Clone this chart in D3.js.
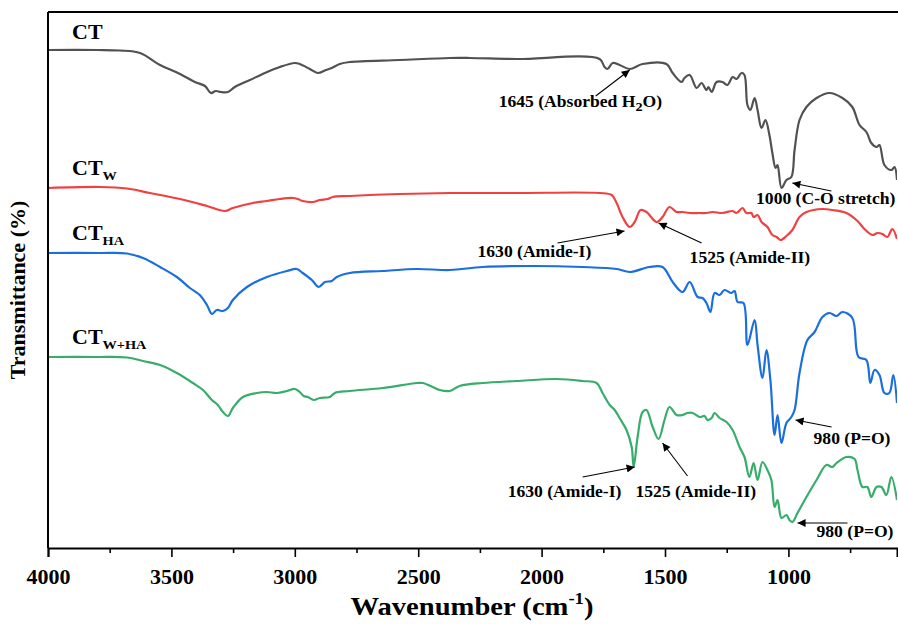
<!DOCTYPE html>
<html>
<head>
<meta charset="utf-8">
<script src="https://cdn.jsdelivr.net/npm/d3@7.9.0/dist/d3.min.js"></script>
<style>
  body { margin: 0; background: #fff; }
  svg text { font-family: "Liberation Serif", "Times New Roman", serif; font-weight: bold; fill: #000; }
</style>
</head>
<body>
<div id="chart"></div>
<script>
// FTIR spectra, wavenumber (cm-1) vs transmittance (stacked, arbitrary units)
const seriesNames = ['CT', 'CTW', 'CTHA', 'CTW+HA'];
const seriesColors = ['#515151', '#F14040', '#1A6FDF', '#37AD6B'];

const ct = [
  [4000, 498], [3800, 498], [3708, 497.5], [3627, 495], [3546, 483], [3465, 474], [3405, 466], [3364, 462],
  [3340, 455], [3320, 457], [3300, 456], [3271, 456], [3243, 461], [3182, 468], [3121, 475],
  [3061, 481], [3000, 485], [2980, 484], [2939, 479], [2907, 475], [2874, 478], [2850, 480],
  [2818, 484], [2777, 486], [2575, 488], [2372, 490], [2291, 490], [2101, 489], [1765, 489],
  [1745, 481], [1733, 479], [1712, 485], [1684, 483], [1643, 479], [1591, 484], [1494, 484],
  [1469, 475], [1433, 466], [1421, 470], [1400, 473], [1372, 460], [1352, 465], [1332, 458],
  [1324, 461], [1311, 456], [1291, 466], [1267, 466], [1247, 463], [1226, 471], [1210, 469],
  [1190, 475], [1178, 473], [1166, 443], [1154, 438], [1137, 450], [1125, 438], [1109, 420],
  [1093, 428], [1077, 413], [1065, 395], [1052, 380], [1044, 383], [1028, 360], [1008, 368],
  [988, 371], [975, 398], [955, 428], [927, 441], [886, 450], [834, 455], [781, 450],
  [741, 441], [712, 423], [684, 416], [664, 405], [643, 401], [631, 403], [611, 383],
  [583, 378], [570, 381], [560, 368]
];

const ctW = [
  [4000, 360], [3789, 361], [3680, 359.5], [3587, 355], [3465, 349], [3356, 342], [3283, 337],
  [3251, 340], [3170, 345], [3113, 347], [3061, 349], [3008, 350], [2988, 349], [2968, 347],
  [2927, 346], [2899, 348], [2866, 349], [2846, 351], [2777, 352], [2575, 354], [2372, 355],
  [2101, 355], [1765, 355], [1716, 353], [1696, 345], [1672, 331], [1643, 321], [1623, 326],
  [1599, 338], [1575, 336], [1534, 326], [1510, 331], [1482, 341], [1453, 336], [1429, 336],
  [1400, 335], [1360, 335], [1332, 335], [1307, 336], [1267, 335], [1226, 337], [1210, 335],
  [1186, 340], [1170, 335], [1150, 335], [1141, 331], [1125, 333], [1109, 326], [1085, 321],
  [1065, 313], [1048, 311], [1032, 308], [1008, 312], [984, 318], [955, 331], [927, 336],
  [862, 339], [822, 338], [765, 335], [720, 327], [692, 319], [660, 313], [639, 315],
  [619, 314], [599, 311], [579, 319], [560, 309]
];

const ctHA = [
  [4000, 295], [3789, 295], [3680, 294.5], [3615, 290], [3546, 281], [3478, 271], [3425, 260],
  [3385, 253], [3356, 243], [3336, 234], [3316, 238], [3291, 237], [3271, 240], [3251, 248],
  [3194, 261], [3113, 271], [3032, 277], [2992, 279], [2968, 275], [2931, 268], [2903, 261],
  [2878, 266], [2850, 267], [2830, 271], [2777, 275], [2644, 277], [2506, 279], [2372, 278],
  [2239, 281], [2036, 282], [1834, 281], [1696, 279], [1643, 276], [1563, 281], [1510, 281],
  [1469, 266], [1429, 256], [1400, 266], [1368, 251], [1348, 250], [1332, 245], [1316, 236],
  [1299, 255], [1279, 253], [1259, 258], [1231, 255], [1218, 257], [1206, 246], [1182, 245],
  [1166, 203], [1137, 228], [1125, 203], [1105, 170], [1089, 198], [1073, 168], [1056, 113],
  [1044, 133], [1028, 105], [1008, 125], [988, 131], [975, 138], [955, 175], [923, 208],
  [894, 216], [862, 231], [834, 235], [805, 232], [781, 236], [741, 230], [716, 191],
  [684, 188], [668, 165], [651, 178], [631, 173], [611, 155], [591, 155], [575, 173], [560, 145]
];

const ctWHA = [
  [4000, 191], [3800, 191], [3680, 190.5], [3615, 187], [3546, 183], [3478, 175], [3413, 165], [3372, 158],
  [3336, 148], [3312, 143], [3291, 136], [3271, 132], [3251, 140], [3210, 151], [3154, 155],
  [3113, 156], [3073, 155], [3032, 157], [3000, 159], [2980, 156], [2964, 152], [2947, 151],
  [2923, 148], [2899, 150], [2858, 151], [2838, 155], [2777, 157], [2644, 160], [2506, 165],
  [2482, 165], [2441, 161], [2413, 158], [2372, 157], [2332, 162], [2239, 165], [2101, 167],
  [1939, 169], [1834, 167], [1777, 165], [1753, 155], [1724, 143], [1704, 138], [1684, 130],
  [1656, 118], [1635, 101], [1627, 81], [1611, 111], [1591, 136], [1575, 138], [1550, 121],
  [1526, 109], [1502, 128], [1482, 141], [1453, 133], [1429, 133], [1409, 135], [1388, 135],
  [1360, 131], [1340, 132], [1328, 128], [1311, 130], [1299, 135], [1279, 130], [1251, 126],
  [1226, 118], [1198, 101], [1178, 91], [1158, 71], [1141, 85], [1125, 68], [1105, 86],
  [1085, 78], [1069, 68], [1056, 41], [1044, 48], [1028, 30], [1008, 33], [996, 28],
  [984, 26], [963, 35], [927, 51], [886, 68], [846, 83], [822, 81], [805, 85], [765, 91],
  [732, 89], [720, 78], [700, 61], [680, 61], [664, 51], [643, 61], [623, 61], [603, 53],
  [583, 71], [560, 48]
];

const seriesData = [ct, ctW, ctHA, ctWHA];

const majorTicks = [4000, 3500, 3000, 2500, 2000, 1500, 1000];
const minorTicks = [3750, 3250, 2750, 2250, 1750, 1250, 750];

// peak annotations: arrow head sits on the spectrum (wn, value)
const annotations = [
  { text: '1645 (Absorbed H', sub: '2', tail: 'O)', wn: 1643, val: 478, arrow: [-34, 26], label: [-131, 37] },
  { text: '1000 (C-O stretch)', wn: 984, val: 365, arrow: [39, 8], label: [103, 21], anchor: 'end' },
  { text: '1630 (Amide-I)', wn: 1664, val: 317, arrow: [-67, 12], label: [-147, 26] },
  { text: '1525 (Amide-II)', wn: 1526, val: 325, arrow: [43, 20], label: [31, 40] },
  { text: '980 (P=O)', wn: 971, val: 128, arrow: [36, 7], label: [18, 24] },
  { text: '1630 (Amide-I)', wn: 1623, val: 81, arrow: [-52, 10], label: [-127, 30] },
  { text: '1525 (Amide-II)', wn: 1510, val: 105, arrow: [25, 33], label: [-27, 54] },
  { text: '980 (P=O)', wn: 963, val: 25, arrow: [50, 0], label: [19, 14] }
];

const width = 898;
const height = 624;
const margin = { top: 12, right: 1, bottom: 76, left: 48 };
const stretch = 'scale(1.1,1)';

const svg = d3.select('#chart')
  .append('svg')
  .attr('width', width)
  .attr('height', height);

const xScale = d3.scaleLinear()
  .domain([4000, 560])
  .range([margin.left, width - margin.right]);

const yScale = d3.scaleLinear()
  .domain([0, 536])
  .range([height - margin.bottom, margin.top]);

svg.append('defs').append('marker')
  .attr('id', 'head')
  .attr('viewBox', '0 0 10 10')
  .attr('refX', 10)
  .attr('refY', 5)
  .attr('markerWidth', 13)
  .attr('markerHeight', 8)
  .attr('markerUnits', 'userSpaceOnUse')
  .attr('orient', 'auto')
  .append('path')
  .attr('d', 'M0,0 L10,5 L0,10 Z')
  .attr('fill', '#000');

svg.append('clipPath').attr('id', 'clip')
  .append('rect')
  .attr('x', margin.left)
  .attr('y', margin.top)
  .attr('width', width - margin.left - margin.right)
  .attr('height', height - margin.top - margin.bottom);

const line = d3.line()
  .x((d) => xScale(d[0]))
  .y((d) => yScale(d[1]))
  .curve(d3.curveCatmullRom.alpha(0.5));

svg.append('g')
  .attr('clip-path', 'url(#clip)')
  .selectAll('path')
  .data(seriesData)
  .join('path')
  .attr('d', line)
  .attr('fill', 'none')
  .attr('stroke', (d, i) => seriesColors[i])
  .attr('stroke-width', 2.2)
  .attr('stroke-linejoin', 'round');

// frame: left + top + bottom
const bottom = height - margin.bottom;
svg.append('line')
  .attr('x1', margin.left).attr('x2', width)
  .attr('y1', margin.top).attr('y2', margin.top)
  .attr('stroke', '#000').attr('stroke-width', 2);
svg.append('line')
  .attr('x1', margin.left).attr('x2', margin.left)
  .attr('y1', margin.top).attr('y2', bottom)
  .attr('stroke', '#000').attr('stroke-width', 2);

const xAxis = svg.append('g')
  .attr('class', 'x-axis')
  .attr('transform', `translate(0, ${bottom})`)
  .call(d3.axisBottom(xScale).tickValues(majorTicks).tickSize(9).tickFormat(d3.format('d')));

xAxis.select('.domain').attr('stroke-width', 2);
xAxis.selectAll('.tick line').attr('stroke-width', 1.6);
xAxis.selectAll('.tick text')
  .attr('y', 36)
  .attr('dy', null)
  .attr('transform', stretch)
  .style('font-size', '20px')
  .style('font-family', '"Liberation Serif", serif')
  .style('font-weight', 'bold');

svg.append('g')
  .attr('class', 'x-minor')
  .attr('transform', `translate(0, ${bottom})`)
  .call(d3.axisBottom(xScale).tickValues(minorTicks).tickSize(5).tickFormat(''))
  .call((g) => g.select('.domain').remove())
  .selectAll('.tick line').attr('stroke-width', 1.6);

// axis titles
const xTitle = svg.append('text')
  .attr('transform', `translate(472, 615) ${stretch}`)
  .attr('text-anchor', 'middle')
  .style('font-size', '26px');
xTitle.append('tspan').text('Wavenumber (cm');
xTitle.append('tspan').attr('dy', -11).style('font-size', '17px').text('-1');
xTitle.append('tspan').attr('dy', 11).text(')');

svg.append('text')
  .attr('transform', `translate(25, 290) rotate(-90) scale(1.1,1)`)
  .attr('text-anchor', 'middle')
  .style('font-size', '20px')
  .text('Transmittance (%)');

// series labels
const labelPos = [[72, 39], [72, 175], [72, 240], [72, 344]];
seriesNames.forEach((name, i) => {
  const t = svg.append('text')
    .attr('transform', `translate(${labelPos[i][0]}, ${labelPos[i][1]}) ${stretch}`)
    .style('font-size', '20px');
  t.append('tspan').text('CT');
  if (name.length > 2) {
    t.append('tspan').attr('dy', 5).style('font-size', '13px').text(name.slice(2));
  }
});

// annotations
annotations.forEach((a) => {
  const hx = xScale(a.wn);
  const hy = yScale(a.val);
  svg.append('line')
    .attr('x1', hx + a.arrow[0]).attr('y1', hy + a.arrow[1])
    .attr('x2', hx).attr('y2', hy)
    .attr('stroke', '#000')
    .attr('stroke-width', 1.1)
    .attr('marker-end', 'url(#head)');
  const t = svg.append('text')
    .attr('transform', `translate(${hx + a.label[0]}, ${hy + a.label[1]}) ${stretch}`)
    .attr('text-anchor', a.anchor || 'start')
    .style('font-size', '16px');
  t.append('tspan').text(a.text);
  if (a.sub) {
    t.append('tspan').attr('dy', 4).style('font-size', '13px').text(a.sub);
    t.append('tspan').attr('dy', -4).text(a.tail);
  }
});
</script>
</body>
</html>
